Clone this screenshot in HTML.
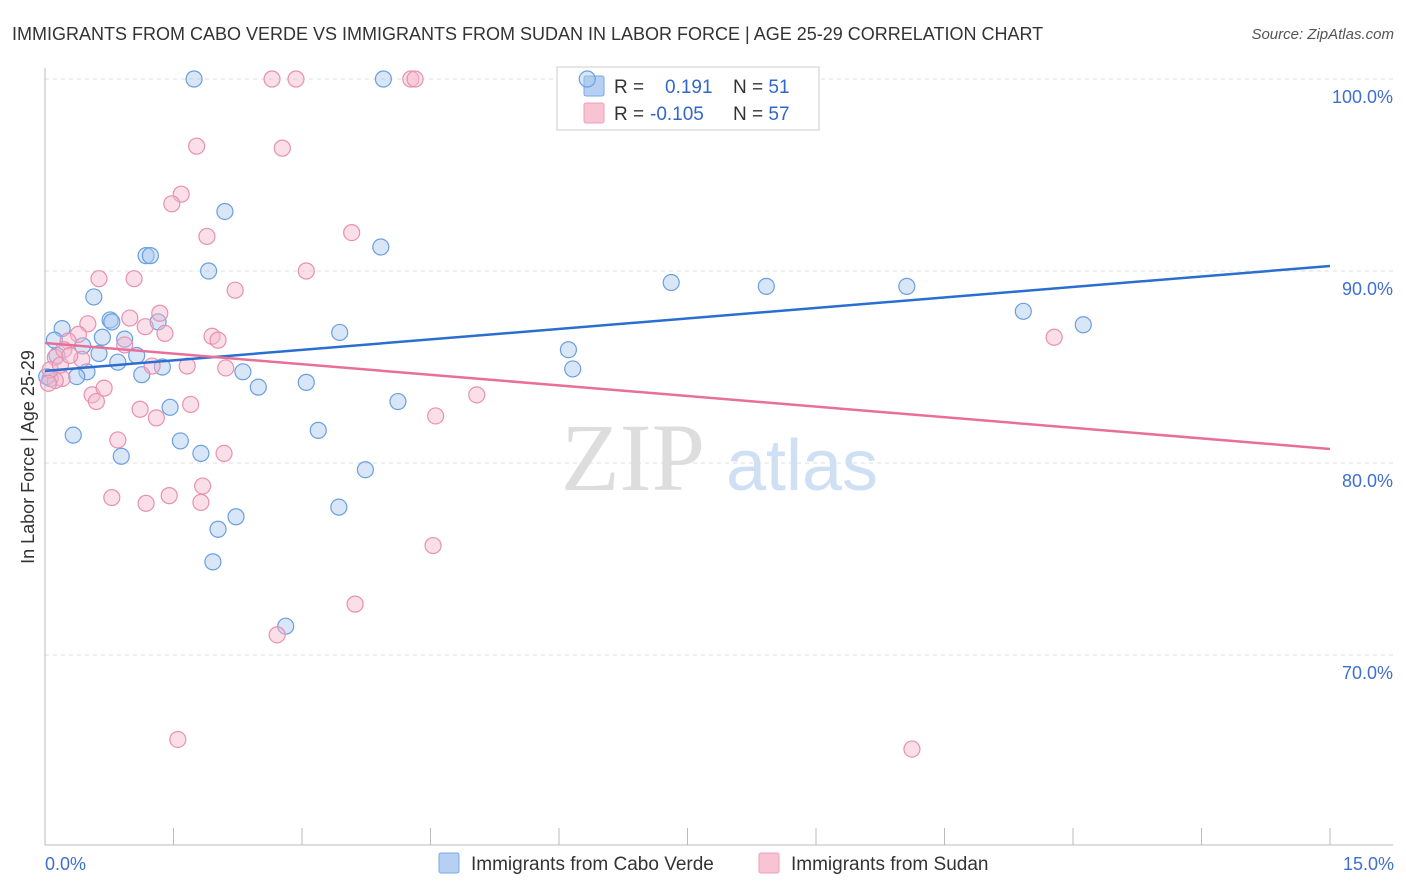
<!DOCTYPE html>
<html><head><meta charset="utf-8"><style>
body{margin:0;background:#fff;font-family:"Liberation Sans",sans-serif}
svg{display:block}
</style></head><body>
<svg id="c" width="1406" height="892">
<text x="12" y="40" font-size="18" fill="#333">IMMIGRANTS FROM CABO VERDE VS IMMIGRANTS FROM SUDAN IN LABOR FORCE | AGE 25-29 CORRELATION CHART</text>
<text x="1394" y="39" font-size="15" fill="#555" text-anchor="end" font-style="italic">Source: ZipAtlas.com</text>
<text transform="translate(34,457) rotate(-90)" font-size="18" fill="#333" text-anchor="middle">In Labor Force | Age 25-29</text>
<g><text x="633" y="490" font-size="96" font-family="Liberation Serif,serif" fill="#ddd" text-anchor="middle">ZIP</text><text x="802" y="490" font-size="72" fill="#cfe0f4" text-anchor="middle">atlas</text></g>
<g id="grid"></g><g id="axes"></g>
<g>
<rect x="557" y="67" width="262" height="63" fill="#fff" stroke="#ccc"/>
<rect x="584" y="76" width="20" height="20" fill="#b5d0f3" stroke="#7aa8e6" rx="2"/>
<rect x="584" y="103" width="20" height="20" fill="#f8c3d3" stroke="#eba0b9" rx="2"/>
<text x="614" y="93" font-size="19" fill="#333">R = <tspan fill="#3366cc" x="665">0.191</tspan><tspan x="733" fill="#333">N = </tspan><tspan fill="#3366cc">51</tspan></text>
<text x="614" y="120" font-size="19" fill="#333">R = <tspan fill="#3366cc" x="650">-0.105</tspan><tspan x="733" fill="#333">N = </tspan><tspan fill="#3366cc">57</tspan></text>
</g>
<g id="pts"></g><g id="lines"></g>
<g>
<rect x="439" y="853" width="20" height="20" fill="#b5d0f3" stroke="#7aa8e6" rx="2"/>
<text x="471" y="870" font-size="19" fill="#333">Immigrants from Cabo Verde</text>
<rect x="759" y="853" width="20" height="20" fill="#f8c3d3" stroke="#eba0b9" rx="2"/>
<text x="791" y="870" font-size="19" fill="#333">Immigrants from Sudan</text>
</g>
<text x="45" y="870" font-size="18" fill="#3f6fce">0.0%</text>
<text x="1394" y="870" font-size="18" fill="#3f6fce" text-anchor="end">15.0%</text>
</svg>
<script>
const blueX=[1.74,3.95,6.33,2.10,3.92,1.18,1.23,1.91,0.57,7.31,8.42,10.06,11.42,12.12,0.20,0.76,0.78,1.32,3.44,0.11,0.67,0.93,0.44,6.11,0.14,0.63,1.07,0.85,1.37,0.49,1.13,0.37,6.16,2.31,2.49,3.05,4.12,1.46,0.33,1.58,3.19,1.82,0.89,3.74,3.43,2.23,2.02,1.96,2.81,0.06,0.02];
const blueY=[100,100,100,93.1,91.25,90.8,90.8,90.0,88.65,89.4,89.2,89.2,87.9,87.2,87.0,87.45,87.35,87.35,86.8,86.4,86.55,86.45,86.1,85.9,85.6,85.7,85.6,85.25,85.0,84.75,84.6,84.5,84.9,84.75,83.95,84.2,83.2,82.9,81.45,81.15,81.7,80.5,80.35,79.65,77.7,77.2,76.55,74.85,71.5,84.4,84.5];
const pinkX=[2.65,2.93,4.27,4.32,1.77,2.77,1.59,1.48,3.58,1.89,3.05,0.63,1.04,2.22,1.34,0.99,0.50,1.17,0.39,1.40,1.95,2.02,0.27,0.93,0.12,0.22,0.43,1.66,2.11,1.25,0.20,0.12,0.55,0.69,0.60,5.04,4.56,1.11,1.30,1.70,0.85,2.09,1.84,0.78,1.18,1.45,1.82,4.53,3.62,2.71,1.55,10.12,11.78,0.06,0.18,0.29,0.04];
const pinkY=[100,100,100,100,96.5,96.4,94.0,93.5,92.0,91.8,90.0,89.6,89.6,89.0,87.8,87.55,87.25,87.1,86.7,86.75,86.6,86.4,86.35,86.15,85.5,85.9,85.4,85.05,84.95,85.05,84.4,84.3,83.55,83.9,83.2,83.55,82.45,82.8,82.35,83.05,81.2,80.5,78.8,78.2,77.9,78.3,77.95,75.7,72.65,71.05,65.6,65.1,86.55,84.85,85.1,85.6,84.15];
const trendBlue=[84.8,90.26];
const trendPink=[86.25,80.73];
const yTicks=[100,90,80,70];
const yTickLabels=["100.0%","90.0%","80.0%","70.0%"];
const xTicks=[0,1.5,3,4.5,6,7.5,9,10.5,12,13.5,15];
const X=v=>45+v*1285/15, Y=v=>79+(100-v)*19.2;
const NS="http://www.w3.org/2000/svg";
function mk(p,t,a){const e=document.createElementNS(NS,t);for(const k in a)e.setAttribute(k,a[k]);document.getElementById(p).appendChild(e);return e;}
yTicks.forEach((v,i)=>{
 const l=mk('grid','line',{x1:45,x2:1393,y1:Y(v),y2:Y(v),stroke:'#ddd','stroke-dasharray':'4,4'});
 
 
 const t=mk('grid','text',{x:1393,y:Y(v)+24,'font-size':18,fill:'#3f6fce','text-anchor':'end'});t.textContent=yTickLabels[i];
 
 
});
const ax=mk('axes','line',{x1:45,x2:45,y1:68,y2:845,stroke:'#bbb'});


const bx=mk('axes','line',{x1:45,x2:1393,y1:845,y2:845,stroke:'#bbb'});


xTicks.forEach(v=>{const t=mk('axes','line',{x1:X(v),x2:X(v),y1:828,y2:845,stroke:'#bbb'});
 
 });
function pts(xs,ys,fill,stroke,name){xs.forEach((x,i)=>{const c=mk('pts','circle',{cx:X(x),cy:Y(ys[i]),r:8,fill:fill,'fill-opacity':0.45,stroke:stroke,'stroke-width':1.2});
 
 });}
pts(blueX,blueY,'#a8c8f0','#6a9fe0','cabo-verde-point');
pts(pinkX,pinkY,'#f5b8cc','#e890b0','sudan-point');
const lb=mk('lines','line',{x1:X(0),y1:Y(trendBlue[0]),x2:X(15),y2:Y(trendBlue[1]),stroke:'#2a6fd0','stroke-width':2.5});


const lp=mk('lines','line',{x1:X(0),y1:Y(trendPink[0]),x2:X(15),y2:Y(trendPink[1]),stroke:'#e87098','stroke-width':2.5});


</script>
</body></html>
